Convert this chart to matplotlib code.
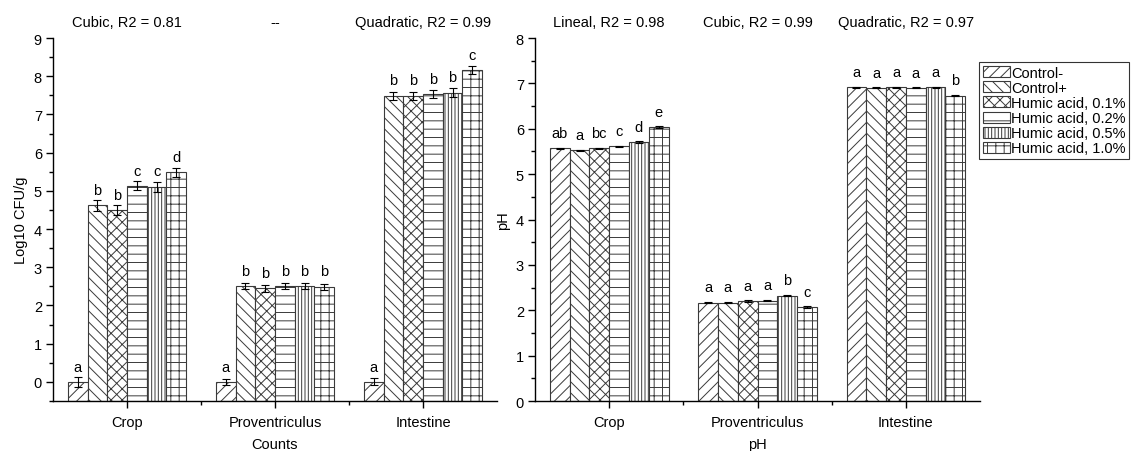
import matplotlib
matplotlib.use("Agg")
import matplotlib.pyplot as plt
import numpy as np
from matplotlib.ticker import MultipleLocator, FixedLocator
from matplotlib.patches import Patch
from matplotlib.transforms import blended_transform_factory

plt.rcParams['font.family'] = ['Liberation Sans', 'DejaVu Sans']
plt.rcParams['font.size'] = 10.5
plt.rcParams['hatch.linewidth'] = 0.7

categories = ["Crop", "Proventriculus", "Intestine"]
treatments = ["Control-", "Control+", "Humic acid, 0.1%", "Humic acid, 0.2%",
              "Humic acid, 0.5%", "Humic acid, 1.0%"]

# Counts (Log10 CFU/g): columns = Crop, Proventriculus, Intestine
counts_ctrl_neg = [0.00, 0.00, 0.00]
counts_ctrl_pos = [4.62, 2.51, 7.49]
counts_ha01 = [4.49, 2.45, 7.49]
counts_ha02 = [5.13, 2.51, 7.54]
counts_ha05 = [5.11, 2.51, 7.57]
counts_ha10 = [5.49, 2.49, 8.16]
counts_err_ctrl_neg = [0.14, 0.08, 0.09]
counts_err_ctrl_pos = [0.15, 0.09, 0.10]
counts_err_ha01 = [0.13, 0.09, 0.10]
counts_err_ha02 = [0.12, 0.09, 0.10]
counts_err_ha05 = [0.13, 0.09, 0.11]
counts_err_ha10 = [0.12, 0.08, 0.10]
counts_letters = [["a", "a", "a"], ["b", "b", "b"], ["b", "b", "b"],
                  ["c", "b", "b"], ["c", "b", "b"], ["d", "b", "c"]]
counts_titles = ["Cubic, R2 = 0.81", "--", "Quadratic, R2 = 0.99"]

# pH
ph_ctrl_neg = [5.57, 2.17, 6.91]
ph_ctrl_pos = [5.53, 2.17, 6.90]
ph_ha01 = [5.57, 2.20, 6.91]
ph_ha02 = [5.61, 2.21, 6.90]
ph_ha05 = [5.71, 2.32, 6.91]
ph_ha10 = [6.04, 2.07, 6.73]
ph_err_ctrl_neg = [0.01, 0.01, 0.01]
ph_err_ctrl_pos = [0.01, 0.01, 0.01]
ph_err_ha01 = [0.015, 0.015, 0.015]
ph_err_ha02 = [0.01, 0.015, 0.01]
ph_err_ha05 = [0.015, 0.015, 0.015]
ph_err_ha10 = [0.015, 0.015, 0.015]
ph_letters = [["ab", "a", "a"], ["a", "a", "a"], ["bc", "a", "a"],
              ["c", "a", "a"], ["d", "b", "a"], ["e", "c", "b"]]
ph_titles = ["Lineal, R2 = 0.98", "Cubic, R2 = 0.99", "Quadratic, R2 = 0.97"]

hatches = ["///", "\\\\\\", "xxx", "--", "|||||", "++"]
edge = "#3a3a3a"

counts_vals = [counts_ctrl_neg, counts_ctrl_pos, counts_ha01, counts_ha02, counts_ha05, counts_ha10]
counts_errs = [counts_err_ctrl_neg, counts_err_ctrl_pos, counts_err_ha01, counts_err_ha02,
               counts_err_ha05, counts_err_ha10]
ph_vals = [ph_ctrl_neg, ph_ctrl_pos, ph_ha01, ph_ha02, ph_ha05, ph_ha10]
ph_errs = [ph_err_ctrl_neg, ph_err_ctrl_pos, ph_err_ha01, ph_err_ha02, ph_err_ha05, ph_err_ha10]

fig = plt.figure(figsize=(11.32, 4.52), dpi=100)
ax1 = fig.add_axes([53/1132, 1-402/452, 444/1132, 363/452])
ax2 = fig.add_axes([535/1132, 1-402/452, 445/1132, 363/452])

n = len(treatments)
width = 0.8 / n
x = np.arange(len(categories))


def draw(ax, vals, errs, letters, titles, base, ylim, ylabel, xlabel):
    for i in range(n):
        pos = x - 0.4 + width * (i + 0.5)
        v = np.array(vals[i])
        ax.bar(pos, v - base, width, bottom=base, facecolor="white",
               edgecolor=edge, hatch=hatches[i], linewidth=0.8, zorder=2)
        ax.errorbar(pos, v, yerr=errs[i], fmt="none", ecolor="black",
                    elinewidth=0.8, capsize=3, capthick=0.8, zorder=3)
        for j in range(len(categories)):
            ax.annotate(letters[i][j], (pos[j], v[j]), xytext=(0, 11),
                        textcoords="offset points", ha="center", va="center",
                        fontsize=10.5)
    tr = blended_transform_factory(ax.transData, fig.transFigure)
    for j, t in enumerate(titles):
        ax.text(x[j], 1 - 23/452, t, transform=tr, ha="center", va="center",
                fontsize=10.5)
    ax.set_xlim(-0.5, 2.5)
    ax.set_ylim(*ylim)
    ax.set_xticks(x)
    ax.set_xticklabels(categories)
    ax.xaxis.set_minor_locator(FixedLocator([0.5, 1.5]))
    ax.yaxis.set_major_locator(MultipleLocator(1))
    ax.yaxis.set_minor_locator(MultipleLocator(0.5))
    ax.tick_params(axis="both", which="major", direction="out", length=5, width=1, pad=3)
    ax.tick_params(axis="both", which="minor", direction="out", length=3, width=1)
    ax.tick_params(axis="x", which="major", pad=5)
    for s in ["top", "right"]:
        ax.spines[s].set_visible(False)
    for s in ["left", "bottom"]:
        ax.spines[s].set_linewidth(1.0)
    ax.set_ylabel(ylabel, labelpad=4)
    ax.set_xlabel(xlabel, labelpad=5.5)


draw(ax1, counts_vals, counts_errs, counts_letters, counts_titles, -0.5, (-0.5, 9),
     "Log10 CFU/g", "Counts")
draw(ax2, ph_vals, ph_errs, ph_letters, ph_titles, 0.0, (0, 8), "pH", "pH")

handles = [Patch(facecolor="white", edgecolor=edge, hatch=hatches[i], linewidth=0.8)
           for i in range(n)]
leg = fig.legend(handles, treatments, loc="upper left",
                 bbox_to_anchor=(979/1132, 1 - 63/452), frameon=True, fancybox=False,
                 edgecolor="black", handlelength=1.85, handleheight=0.8,
                 labelspacing=0.08, handletextpad=0.1, borderpad=0.25,
                 borderaxespad=0, fontsize=10.5)
leg.get_frame().set_linewidth(0.8)

fig.savefig("out.png", dpi=100)
